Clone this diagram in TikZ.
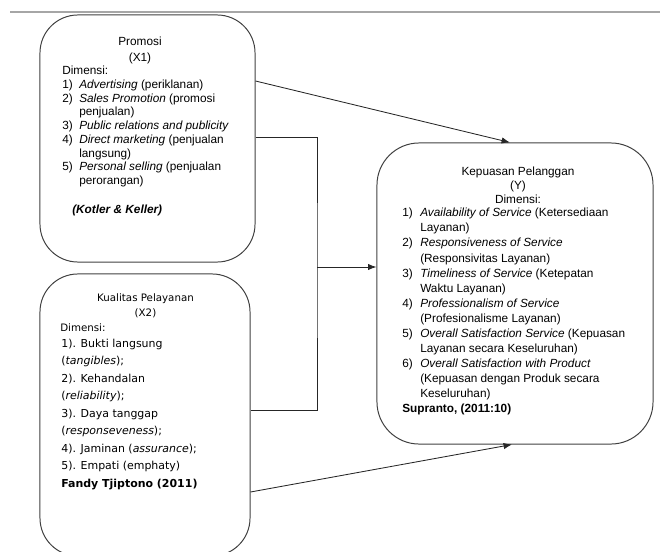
\documentclass[tikz,border=0pt]{standalone}
\usepackage{fontspec}
\setmainfont{Liberation Sans}
\newfontfamily\verdana{DejaVu Sans}
\usetikzlibrary{arrows.meta,calc}
\tikzset{
  panel/.style={draw=black!75, line width=0.7pt, rounded corners=27pt, inner sep=0pt},
  head/.style={inner sep=0pt, align=center, anchor=base},
  body/.style={inner sep=0pt, align=left, anchor=base west},
  flow/.style={-{Latex[length=6pt,width=4.5pt]}, line width=0.6pt, draw=black!85},
  link/.style={line width=0.6pt, draw=black!85}
}
\newcommand{\itemno}[2][12.1pt]{\makebox[#1][l]{#2}}
\newcommand{\itemgap}[1][12.1pt]{\hspace*{#1}}

\begin{document}
\begin{tikzpicture}[x=0.025cm, y=-0.025cm]
  \useasboundingbox (0,0) rectangle (660,552);
  \draw[black!35, line width=1.4pt] (10,12) -- (660,12);

  \node[panel, minimum width=5.375cm, minimum height=6.175cm] (promosi) at (147.5,138.5) {};
  \node[panel, minimum width=5.25cm, minimum height=7.05cm] (kualitas) at (145,415) {};
  \node[panel, rounded corners=30pt, minimum width=6.9cm, minimum height=7.525cm] (kepuasan) at (515,293.5) {};

  \node[head, font=\fontsize{8.4}{10.7}\selectfont] (promosiTitle) at (140,61) {Promosi\\(X1)};
  \node[body, font=\fontsize{8.4}{9.75}\selectfont] (promosiList) at (62,184.5) {Dimensi:\\
    \itemno{1)}\textit{Advertising} (periklanan)\\
    \itemno{2)}\textit{Sales Promotion} (promosi\\
    \itemgap penjualan)\\
    \itemno{3)}\textit{Public relations and publicity}\\
    \itemno{4)}\textit{Direct marketing} (penjualan\\
    \itemgap langsung)\\
    \itemno{5)}\textit{Personal selling} (penjualan\\
    \itemgap perorangan)};
  \node[body, font=\fontsize{8.4}{9.75}\selectfont\bfseries\itshape] (promosiRef) at (72,213) {(Kotler \& Keller)};

  \node[head, font=\verdana\fontsize{7.3}{10.7}\selectfont] (kualitasTitle) at (145.5,316.5) {Kualitas Pelayanan\\(X2)};
  \node[body, font=\verdana\fontsize{7.3}{10.7}\selectfont] (kualitasDim) at (60,331) {Dimensi:};
  \node[body, font=\verdana\fontsize{7.8}{12.4}\selectfont] (kualitasList) at (61,487) {1). Bukti langsung\\
    (\textit{tangibles});\\
    2). Kehandalan\\
    (\textit{reliability});\\
    3). Daya tanggap\\
    (\textit{responseveness});\\
    4). Jaminan (\textit{assurance});\\
    5). Empati (emphaty)\\
    \textbf{Fandy Tjiptono (2011)}};

  \node[head, font=\fontsize{8.4}{10}\selectfont] (kepuasanTitle) at (518,203.5) {Kepuasan Pelanggan\\(Y)\\Dimensi:};
  \node[body, font=\fontsize{8.4}{10.7}\selectfont] (kepuasanList) at (402,412.5) {%
    \itemno[12.8pt]{1)}\textit{Availability of Service} (Ketersediaan\\
    \itemgap[12.8pt]Layanan)\\
    \itemno[12.8pt]{2)}\textit{Responsiveness of Service}\\
    \itemgap[12.8pt](Responsivitas Layanan)\\
    \itemno[12.8pt]{3)}\textit{Timeliness of Service} (Ketepatan\\
    \itemgap[12.8pt]Waktu Layanan)\\
    \itemno[12.8pt]{4)}\textit{Professionalism of Service}\\
    \itemgap[12.8pt](Profesionalisme Layanan)\\
    \itemno[12.8pt]{5)}\textit{Overall Satisfaction Service} (Kepuasan\\
    \itemgap[12.8pt]Layanan secara Keseluruhan)\\
    \itemno[12.8pt]{6)}\textit{Overall Satisfaction with Product}\\
    \itemgap[12.8pt](Kepuasan dengan Produk secara\\
    \itemgap[12.8pt]Keseluruhan)\\
    \textbf{Supranto, (2011:10)}};

  \coordinate (junction) at (317,267);
  \draw[flow] ($(promosi.east)+(0,-57.5)$) -- ($(kepuasan.north)+(-5,0)$);
  \draw[link] ($(promosi.east)+(0,-1.5)$) -| (junction) |- ($(kualitas.east)+(0,-5)$);
  \draw[flow] (junction) -- (junction -| kepuasan.west);
  \draw[flow] ($(kualitas.east)+(0,77)$) -- ($(kepuasan.south)+(-3,0)$);
\end{tikzpicture}
\end{document}
